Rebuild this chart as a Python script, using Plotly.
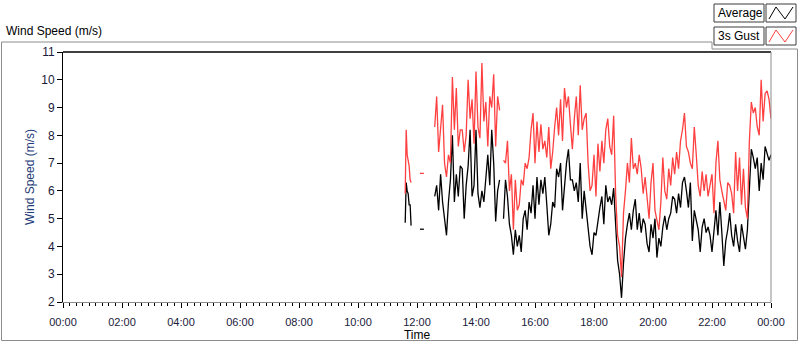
import plotly.graph_objects as go
import pandas as pd

DAY0 = "2024-01-01 00:00"
DAY1 = "2024-01-02 00:00"

# ---- data ----
# segment 1: 2-minute samples starting 11:36
seg1_start = "2024-01-01 11:36"
seg1_avg = [4.85, 6.3, 6.0, 5.9, 5.5, 5.5, 4.75]
seg1_gust = [5.9, 8.2, 7.3, 7.1, 6.9, 6.4, 6.3]

# segment 2: 8-minute samples starting 12:06
seg2_start = "2024-01-01 12:06"
seg2_avg = [4.62, 4.62]
seg2_gust = [6.63, 6.63]

# main segment: 4-minute samples starting 12:36 (None = missing)
main_start = "2024-01-01 12:36"
main_avg = [
    5.8, 6.2, 5.3, 6.6, 5.6, 4.9, 4.4, 5.6, 6.4, 8.0,
    5.6, 6.6, 5.8, 6.9, 6.8, 5.0, 6.2, 6.9, 8.2, 5.8,
    6.2, 8.2, 5.9, 5.4, 6.0, 5.6, 6.6, 7.3, 6.2, 8.2,
    7.0, 4.9, 6.0, 6.4, None, 5.0, 6.4, 5.8, 4.8, 4.4,
    3.7, 4.6, 4.0, 4.4, 3.8, 5.0, 5.3, 4.6, 5.6, 5.2,
    6.2, 5.0, 6.5, 5.5, 6.4, 5.9, 6.5, 5.5, 4.4, 4.8,
    5.6, 5.4, 6.8, 6.5, 7.0, 5.3, 6.2, 7.0, 7.5, 6.4,
    6.4, 6.0, 6.3, 5.6, 7.0, 5.0, 6.0, 5.4, 4.6, 4.0,
    3.7, 4.5, 4.4, 5.0, 5.4, 5.8, 4.8, 6.2, 5.6, 5.8,
    5.5, 6.1, 4.7, 3.5, 3.0, 2.15, 3.4, 4.3, 4.8, 5.2,
    4.6, 5.3, 5.7, 4.6, 5.2, 4.5, 5.0, 4.8, 4.1, 3.8,
    4.8, 4.3, 5.0, 3.6, 4.3, 4.0, 4.7, 5.1, 4.6, 5.0,
    5.2, 5.8, 5.7, 5.2, 5.9, 5.4, 6.3, 6.5, 6.0, 5.4,
    6.3, 4.2, 5.3, 5.0, 4.6, 3.8, 4.7, 5.0, 4.5, 4.7,
    4.4, 3.8, 4.6, 5.3, 4.4, 5.6, 4.5, 3.3, 4.2, 4.6,
    5.2, 4.4, 4.0, 4.8, 4.2, 3.8, 4.8, 4.4, 3.9, 4.6,
    6.3, 7.5, 7.2, 6.8, 7.2, 6.0, 7.0, 6.4, 7.6, 7.3,
    7.1, 7.3,
]
main_gust = [
    8.3, 9.4, 7.4, 8.2, 9.1, 7.0, 6.5, 7.3, 7.0, 10.1,
    8.2, 9.7, 7.6, 8.2, 8.2, 7.4, 8.0, 10.0, 8.6, 9.3,
    7.7, 10.3, 8.3, 7.9, 10.6, 8.5, 9.2, 7.6, 9.4, 9.0,
    10.2, 7.6, 9.4, 8.9, None, 7.1, 7.0, 7.8, 6.0, 6.6,
    4.6, 6.4, 5.3, 5.5, 6.4, 6.2, 7.0, 6.8, 7.2, 8.2,
    8.8, 7.0, 8.5, 7.4, 8.4, 7.5, 7.8, 7.2, 8.3, 6.8,
    7.4, 8.3, 9.0, 8.0, 9.3, 7.8, 9.7, 9.0, 9.4, 8.4,
    7.5, 8.6, 9.4, 8.0, 9.8, 8.2, 8.6, 8.8, 7.0, 6.0,
    6.2, 7.3, 5.8, 7.7, 6.7, 7.8, 7.0, 8.2, 8.6, 7.6,
    7.3, 8.7, 5.9, 4.4, 4.0, 2.9, 5.2, 6.0, 7.0, 6.3,
    7.9, 6.8, 7.0, 6.6, 7.3, 6.8, 5.9, 6.5, 5.6, 5.0,
    6.3, 7.0, 5.3, 5.0, 4.6, 5.6, 7.2, 6.0, 5.7, 6.8,
    6.2, 7.2, 6.6, 7.4, 6.8, 7.8, 8.2, 8.8, 7.6, 7.4,
    7.0, 6.8, 8.3, 7.3, 6.2, 5.8, 6.7, 6.0, 6.6, 5.8,
    6.2, 6.6, 5.2, 7.0, 7.8, 6.4, 6.0, 5.6, 5.3, 6.3,
    6.2, 5.9, 5.2, 7.4, 6.0, 7.2, 5.5, 6.8, 5.4, 5.0,
    7.8, 9.2, 8.8, 9.0, 8.3, 8.0, 10.0, 8.5, 9.5, 9.6,
    9.3, 8.6,
]

series_names = ["Average", "3s Gust"]
series_colors = ["#000000", "#ff4040"]

# ---- assemble time axis ----
t1 = list(pd.date_range(seg1_start, periods=len(seg1_avg), freq="2min"))
t2 = list(pd.date_range(seg2_start, periods=len(seg2_avg), freq="8min"))
t3 = list(pd.date_range(main_start, periods=len(main_avg), freq="4min"))
gap_a = pd.Timestamp("2024-01-01 11:56")
gap_b = pd.Timestamp("2024-01-01 12:25")
times = t1 + [gap_a] + t2 + [gap_b] + t3
avg_all = seg1_avg + [None] + seg2_avg + [None] + main_avg
gust_all = seg1_gust + [None] + seg2_gust + [None] + main_gust

FONT = "Liberation Sans"
W, H = 800, 342
L, R, T, B = 63, 771, 52, 302   # plot area in pixels


def px(x):
    return (x - L) / (R - L)


def py(y):
    return (B - y) / (B - T)


fig = go.Figure()
fig.add_trace(go.Scatter(x=times, y=avg_all, mode="lines", name=series_names[0],
                         line=dict(color=series_colors[0], width=1.3), connectgaps=False))
fig.add_trace(go.Scatter(x=times, y=gust_all, mode="lines", name=series_names[1],
                         line=dict(color=series_colors[1], width=1.3), connectgaps=False))

shapes = []
# outer frame with notch for legend
frame_path = (f"M {px(1.5)},{py(340.5)} L {px(1.5)},{py(42)} L {px(712)},{py(42)} "
              f"L {px(712)},{py(49)} L {px(797.5)},{py(49)} L {px(797.5)},{py(340.5)} Z")
shapes.append(dict(type="path", xref="paper", yref="paper", path=frame_path,
                   line=dict(color="#8c8c8c", width=1), layer="below"))
# plot border: top black, right gray
shapes.append(dict(type="line", xref="paper", yref="paper", x0=0, x1=1, y0=1, y1=1,
                   line=dict(color="#000000", width=1.5)))
shapes.append(dict(type="line", xref="paper", yref="paper", x0=1, x1=1, y0=0, y1=1,
                   line=dict(color="#8c8c8c", width=1)))

annotations = []
# legend boxes
legend_rows = [(4, 22), (27, 45)]
for (name, color), (y0, y1) in zip(zip(series_names, series_colors), legend_rows):
    shapes.append(dict(type="rect", xref="paper", yref="paper",
                       x0=px(714), x1=px(764), y0=py(y1), y1=py(y0),
                       line=dict(color="#3c3c3c", width=1), fillcolor="white"))
    shapes.append(dict(type="rect", xref="paper", yref="paper",
                       x0=px(766), x1=px(796), y0=py(y1), y1=py(y0),
                       line=dict(color="#3c3c3c", width=1), fillcolor="white"))
    zig = (f"M {px(769)},{py(y1-3)} L {px(776)},{py(y0+3)} "
           f"L {px(785)},{py(y1-3)} L {px(793)},{py(y0+3)}")
    shapes.append(dict(type="path", xref="paper", yref="paper", path=zig,
                       line=dict(color=color, width=1)))
    annotations.append(dict(text=name, xref="paper", yref="paper",
                            x=px(716), y=py((y0 + y1) / 2), xanchor="left", yanchor="middle",
                            showarrow=False, font=dict(family=FONT, size=12, color="#000000")))

annotations.append(dict(text="Wind Speed (m/s)", xref="paper", yref="paper",
                        x=px(4), y=py(31), xanchor="left", yanchor="middle", showarrow=False,
                        font=dict(family=FONT, size=12, color="#000000")))

fig.update_layout(
    width=W, height=H,
    margin=dict(l=L, r=W - R, t=T, b=H - B, pad=0, autoexpand=False),
    paper_bgcolor="white", plot_bgcolor="white",
    showlegend=False,
    shapes=shapes, annotations=annotations,
    font=dict(family=FONT, size=11, color="#1a1a3a"),
    xaxis=dict(
        type="date", range=[DAY0, DAY1], tick0=DAY0, dtick=7200000, tickformat="%H:%M",
        ticks="outside", ticklen=5, tickcolor="#000000", tickwidth=1,
        ticklabelstandoff=5, automargin=False,
        showline=True, linecolor="#8c8c8c", linewidth=1,
        showgrid=False, zeroline=False,
        tickfont=dict(family=FONT, size=11, color="#1a1a3a"),
        title=dict(text="Time", standoff=3, font=dict(family=FONT, size=12, color="#000000")),
        minor=dict(ticks="outside", ticklen=3, tickcolor="#000000", dtick=800000,
                   tick0=DAY0, showgrid=False),
    ),
    yaxis=dict(
        range=[2, 11], dtick=1, tick0=2, automargin=False,
        ticks="outside", ticklen=5, tickcolor="#000000",
        showline=True, linecolor="#000000", linewidth=1,
        showgrid=False, zeroline=False,
        tickfont=dict(family=FONT, size=12, color="#1a1a3a"),
        title=dict(text="Wind Speed (m/s)", standoff=4,
                   font=dict(family=FONT, size=12, color="#1e3c78")),
    ),
)

post = """
document.body.style.margin = '0';
document.body.style.overflow = 'hidden';
"""

fig.write_html("out.html", post_script=post, config={"displayModeBar": False})
